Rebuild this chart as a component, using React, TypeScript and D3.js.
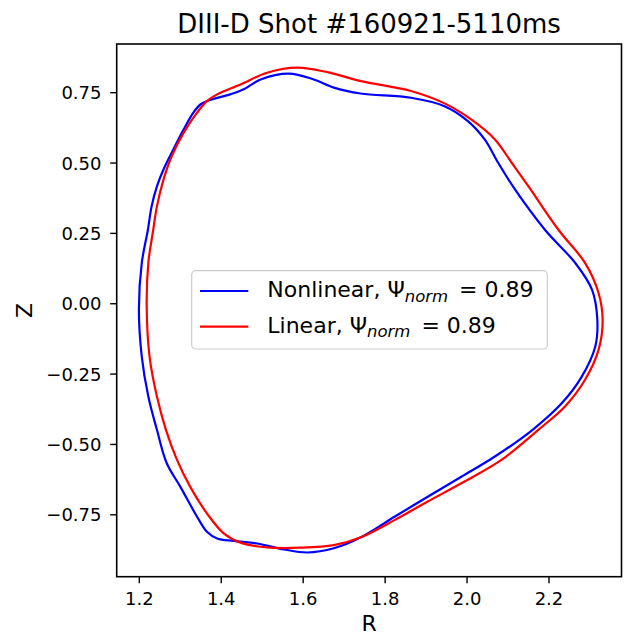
import React from "react";
import * as d3 from "d3";

const TITLE = "DIII-D Shot #160921-5110ms";
const X_LABEL = "R";
const Y_LABEL = "Z";
const X_TICKS = [1.2, 1.4, 1.6, 1.8, 2.0, 2.2];
const Y_TICKS = [-0.75, -0.5, -0.25, 0, 0.25, 0.5, 0.75];
const X_LIMITS = [1.1448, 2.377];
const Y_LIMITS = [-0.970, 0.923];

const SERIES_NAMES = ["Nonlinear", "Linear"];
const SERIES_COLORS = ["#0000ff", "#ff0000"];
const PSI_VALUE = "0.89";

// Nonlinear contour (R, Z)
const nonlinearR = [
  1.199, 1.206, 1.221, 1.230, 1.243, 1.259, 1.283, 1.308, 1.332, 1.349, 1.373, 1.422, 1.455, 1.496,
  1.565, 1.626, 1.675, 1.740, 1.863, 1.945, 2.002, 2.043, 2.076, 2.117, 2.190, 2.264, 2.305, 2.318,
  2.313, 2.280, 2.231, 2.160, 2.068, 1.986, 1.904, 1.823, 1.741, 1.675, 1.610, 1.553, 1.488, 1.430,
  1.390, 1.365, 1.341, 1.300, 1.267, 1.243, 1.222, 1.206,
];
const nonlinearZ = [
  -0.02, 0.145, 0.263, 0.346, 0.417, 0.477, 0.548, 0.619, 0.679, 0.708, 0.724, 0.744, 0.762, 0.797,
  0.818, 0.797, 0.768, 0.747, 0.732, 0.702, 0.649, 0.584, 0.501, 0.406, 0.263, 0.145, 0.050, -0.057,
  -0.152, -0.259, -0.354, -0.448, -0.543, -0.615, -0.686, -0.757, -0.830, -0.869, -0.884, -0.873,
  -0.852, -0.843, -0.834, -0.810, -0.757, -0.650, -0.567, -0.448, -0.330, -0.188,
];

// Linear contour (R, Z)
const linearR = [
  1.218, 1.222, 1.234, 1.243, 1.259, 1.279, 1.308, 1.341, 1.365, 1.390, 1.447, 1.512, 1.586, 1.659,
  1.741, 1.863, 1.945, 2.010, 2.068, 2.109, 2.150, 2.223, 2.288, 2.321, 2.331, 2.321, 2.288, 2.239,
  2.174, 2.084, 1.986, 1.904, 1.823, 1.741, 1.675, 1.594, 1.512, 1.447, 1.406, 1.365, 1.324, 1.292,
  1.265, 1.243, 1.225,
];
const linearZ = [
  -0.01, 0.145, 0.263, 0.346, 0.441, 0.524, 0.607, 0.679, 0.720, 0.744, 0.779, 0.821, 0.839, 0.823,
  0.791, 0.756, 0.712, 0.655, 0.584, 0.501, 0.417, 0.263, 0.145, 0.038, -0.060, -0.164, -0.270,
  -0.365, -0.448, -0.555, -0.638, -0.703, -0.769, -0.830, -0.858, -0.867, -0.866, -0.849, -0.816,
  -0.745, -0.650, -0.555, -0.448, -0.330, -0.188,
];

const W = 624;
const H = 636;
const M = { left: 116.7, right: 621.5, top: 44, bottom: 576.7 };
const FONT = "DejaVu Sans, sans-serif";

export default function App() {
  const x = d3.scaleLinear().domain(X_LIMITS).range([M.left, M.right]);
  const y = d3.scaleLinear().domain(Y_LIMITS).range([M.bottom, M.top]);

  const line = d3
    .line<[number, number]>()
    .x((d) => x(d[0]))
    .y((d) => y(d[1]))
    .curve(d3.curveCatmullRomClosed.alpha(0.5));

  const series = [
    { pts: nonlinearR.map((r, i) => [r, nonlinearZ[i]] as [number, number]) },
    { pts: linearR.map((r, i) => [r, linearZ[i]] as [number, number]) },
  ];

  const fmtY = (v: number) => (v < 0 ? "\u2212" : "") + Math.abs(v).toFixed(2);
  const fmtX = (v: number) => v.toFixed(1);

  const legX = 191.7;
  const legY = 270.7;
  const legW = 355.6;
  const legH = 78.3;
  const rows = [291, 326.7];

  return (
    <svg width={W} height={H} style={{ display: "block", position: "absolute", left: 0, top: 0 }} fontFamily={FONT}>
      <rect width={W} height={H} fill="#ffffff" />
      <defs>
        <clipPath id="plotclip">
          <rect x={M.left} y={M.top} width={M.right - M.left} height={M.bottom - M.top} />
        </clipPath>
      </defs>
      <g clipPath="url(#plotclip)">
        {series.map((s, i) => (
          <path key={i} d={line(s.pts) || ""} fill="none" stroke={SERIES_COLORS[i]} strokeWidth={2.2} strokeLinejoin="round" />
        ))}
      </g>
      {/* axes frame */}
      <rect x={M.left} y={M.top} width={M.right - M.left} height={M.bottom - M.top} fill="none" stroke="#000" strokeWidth={1.6} />
      {/* x ticks */}
      {X_TICKS.map((t) => (
        <g key={t}>
          <line x1={x(t)} x2={x(t)} y1={M.bottom} y2={M.bottom + 6.5} stroke="#000" strokeWidth={1.4} />
          <text x={x(t)} y={605} textAnchor="middle" fontSize={18} fill="#000">
            {fmtX(t)}
          </text>
        </g>
      ))}
      {/* y ticks */}
      {Y_TICKS.map((t) => (
        <g key={t}>
          <line x1={M.left - 6.5} x2={M.left} y1={y(t)} y2={y(t)} stroke="#000" strokeWidth={1.4} />
          <text x={101.5} y={y(t) + 6.5} textAnchor="end" fontSize={18} fill="#000">
            {fmtY(t)}
          </text>
        </g>
      ))}
      <text x={(M.left + M.right) / 2} y={631} textAnchor="middle" fontSize={22} fill="#000">
        {X_LABEL}
      </text>
      <text transform={`translate(32,${(M.top + M.bottom) / 2}) rotate(-90)`} textAnchor="middle" fontSize={22} fill="#000">
        {Y_LABEL}
      </text>
      <text x={(M.left + M.right) / 2} y={33} textAnchor="middle" fontSize={26} fill="#000">
        {TITLE}
      </text>
      {/* legend */}
      <rect x={legX} y={legY} width={legW} height={legH} rx={4} fill="#ffffff" fillOpacity={0.8} stroke="#cccccc" strokeWidth={1.2} />
      {SERIES_NAMES.map((name, i) => (
        <g key={name}>
          <line x1={200} x2={248.3} y1={rows[i]} y2={rows[i]} stroke={SERIES_COLORS[i]} strokeWidth={2.2} />
          <text x={267.3} y={rows[i] + 6} fontSize={22} fill="#000" style={{ whiteSpace: "pre" }}>
            {name}, Ψ
            <tspan fontSize={16.5} fontStyle="italic" dy={4.5}>norm</tspan>
            <tspan dy={-4.5} dx={4}>{` = ${PSI_VALUE}`}</tspan>
          </text>
        </g>
      ))}
    </svg>
  );
}
